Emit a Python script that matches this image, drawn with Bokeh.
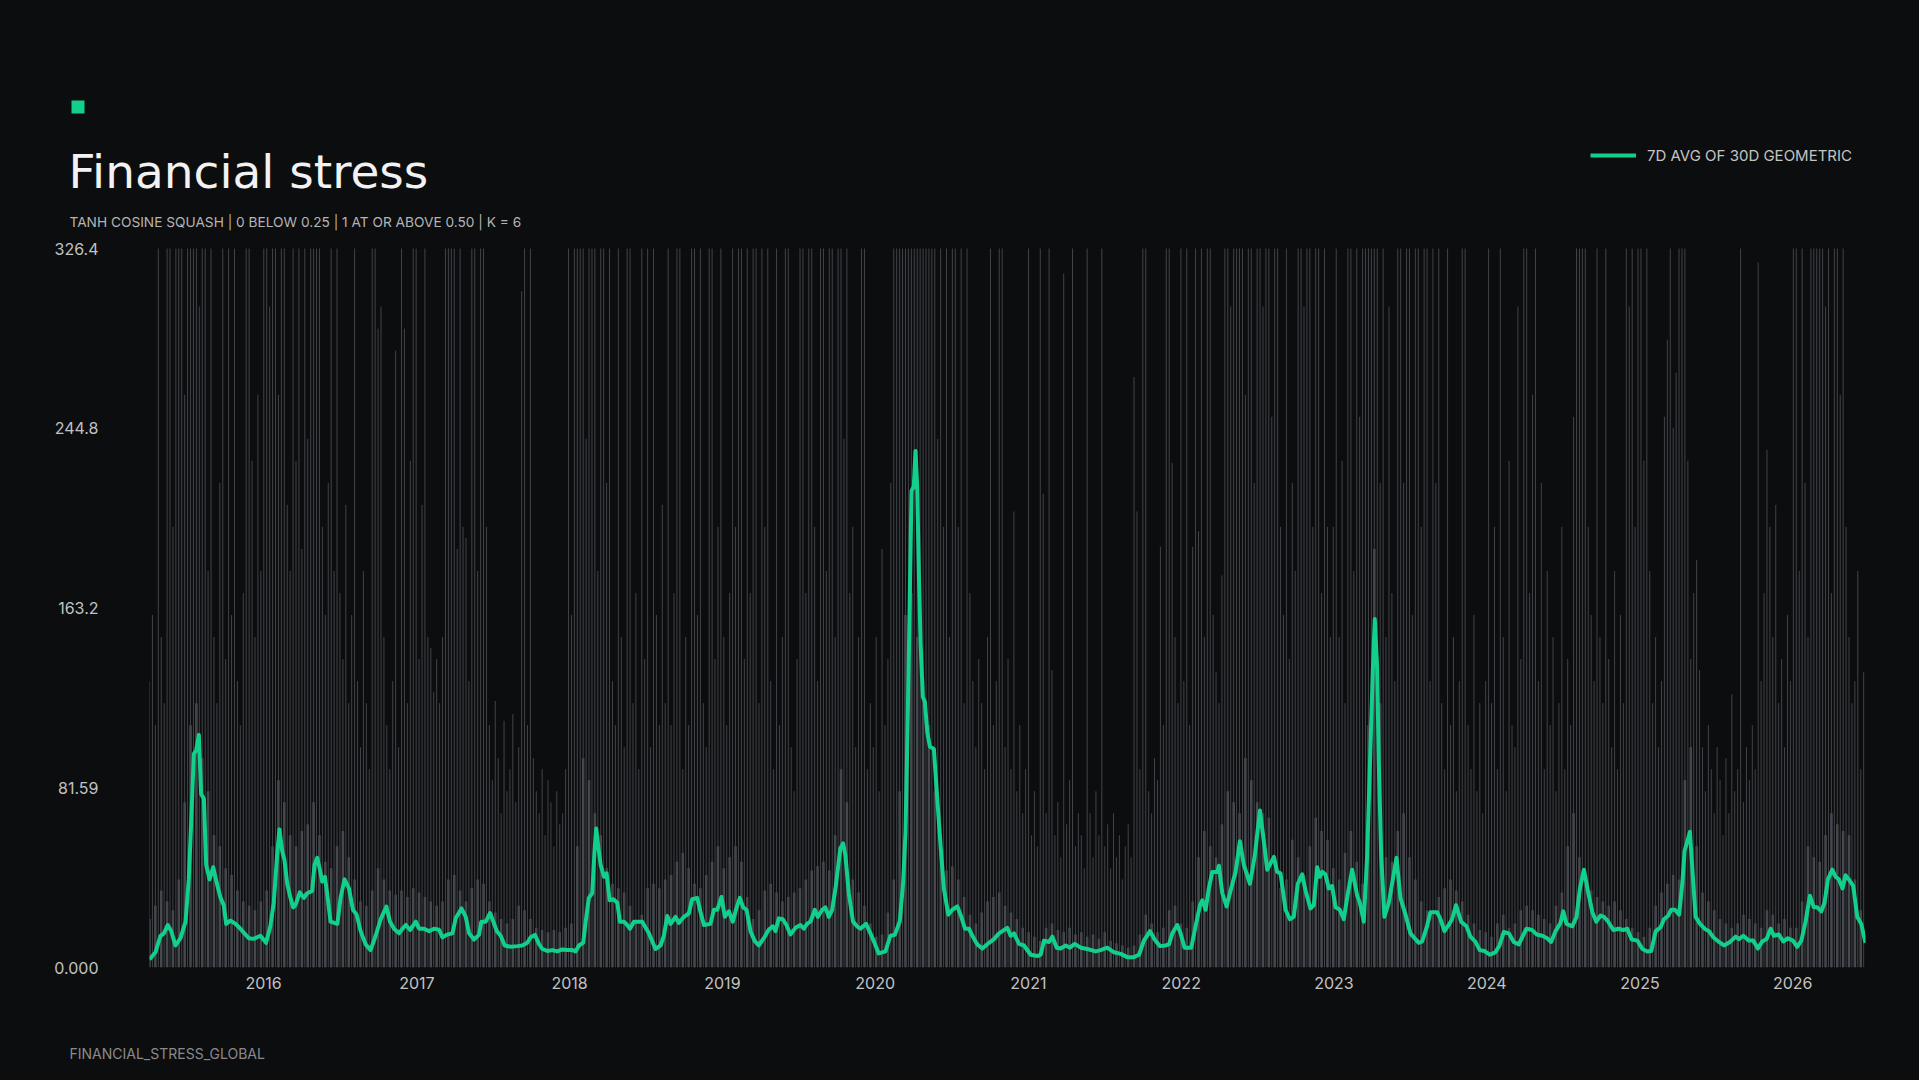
from datetime import datetime
import pandas as pd
from bokeh.plotting import figure
from bokeh.models import (Range1d, FixedTicker, CustomJSTickFormatter, Label,
                          BoxAnnotation, Legend, LegendItem)
from bokeh.embed import file_html
from bokeh.resources import INLINE

# ---------------- data ----------------
title_text = "Financial stress"
subtitle_text = "TANH COSINE SQUASH | 0 BELOW 0.25 | 1 AT OR ABOVE 0.50 | K = 6"
footer_text = "FINANCIAL_STRESS_GLOBAL"
legend_label = "7D AVG OF 30D GEOMETRIC"

y_ticks = [0.0, 81.59, 163.19, 244.78, 326.37]
x_tick_years = [2016, 2017, 2018, 2019, 2020, 2021, 2022, 2023, 2024, 2025, 2026]

# 7D average of 30D geometric (decimal year, value)
avg_points = [
    (2015.253, 3.6), (2015.292, 6.9), (2015.325, 14.4), (2015.347, 15.5), (2015.373, 19.3),
    (2015.395, 16.5), (2015.423, 10.0), (2015.456, 13.3), (2015.489, 20.8), (2015.510, 40.0),
    (2015.526, 66.0), (2015.543, 97.0), (2015.558, 98.5), (2015.576, 105.6), (2015.591, 78.8),
    (2015.609, 76.6), (2015.624, 46.6), (2015.646, 40.0), (2015.670, 45.5), (2015.691, 39.0),
    (2015.718, 31.6), (2015.739, 28.3), (2015.755, 19.8), (2015.783, 21.3), (2015.816, 19.8),
    (2015.848, 17.6), (2015.874, 15.5), (2015.903, 13.3), (2015.935, 13.0), (2015.979, 14.4),
    (2016.016, 11.2), (2016.044, 18.7), (2016.066, 29.4), (2016.088, 50.9), (2016.103, 62.7),
    (2016.121, 53.0), (2016.136, 48.7), (2016.154, 38.0), (2016.175, 31.6), (2016.193, 27.3),
    (2016.208, 28.3), (2016.236, 34.1), (2016.263, 31.6), (2016.284, 33.7), (2016.317, 34.8),
    (2016.332, 46.6), (2016.350, 49.8), (2016.367, 44.4), (2016.382, 39.0), (2016.400, 41.2),
    (2016.420, 30.5), (2016.437, 20.8), (2016.481, 19.8), (2016.502, 31.6), (2016.528, 40.0),
    (2016.557, 35.9), (2016.583, 26.2), (2016.607, 24.0), (2016.633, 16.5), (2016.666, 10.5),
    (2016.698, 7.9), (2016.731, 14.4), (2016.764, 21.9), (2016.801, 27.7), (2016.825, 20.8),
    (2016.851, 17.6), (2016.884, 15.5), (2016.906, 17.6), (2016.928, 19.3), (2016.956, 17.0),
    (2016.993, 20.8), (2017.015, 17.6), (2017.047, 17.6), (2017.080, 16.5), (2017.113, 17.6),
    (2017.145, 17.2), (2017.167, 13.7), (2017.200, 15.0), (2017.233, 15.5), (2017.255, 22.5),
    (2017.292, 26.8), (2017.320, 23.0), (2017.342, 15.5), (2017.374, 12.7), (2017.407, 14.8),
    (2017.422, 20.8), (2017.451, 20.8), (2017.479, 24.7), (2017.501, 20.8), (2017.523, 16.5),
    (2017.549, 14.4), (2017.575, 10.0), (2017.614, 9.4), (2017.658, 9.7), (2017.690, 10.0),
    (2017.723, 11.2), (2017.745, 13.7), (2017.773, 14.8), (2017.799, 10.7), (2017.821, 8.4),
    (2017.854, 7.5), (2017.887, 7.9), (2017.919, 7.3), (2017.952, 8.2), (2017.985, 7.9),
    (2018.018, 7.9), (2018.039, 7.3), (2018.061, 10.0), (2018.089, 11.2), (2018.105, 20.8),
    (2018.126, 31.6), (2018.148, 33.7), (2018.163, 53.0), (2018.174, 63.1), (2018.187, 55.2),
    (2018.203, 46.6), (2018.225, 41.2), (2018.242, 42.7), (2018.262, 30.5), (2018.286, 31.0),
    (2018.312, 29.4), (2018.329, 20.8), (2018.355, 20.8), (2018.377, 19.3), (2018.395, 17.6),
    (2018.421, 20.8), (2018.475, 20.8), (2018.519, 15.5), (2018.562, 8.4), (2018.595, 10.0),
    (2018.617, 14.4), (2018.639, 23.4), (2018.661, 19.8), (2018.693, 23.0), (2018.715, 20.2),
    (2018.748, 23.0), (2018.780, 24.5), (2018.802, 31.0), (2018.835, 31.6), (2018.857, 25.1),
    (2018.879, 19.3), (2018.922, 19.8), (2018.944, 26.2), (2018.966, 26.2), (2018.994, 32.0),
    (2019.016, 23.0), (2019.042, 25.5), (2019.068, 20.8), (2019.090, 26.6), (2019.114, 31.6),
    (2019.136, 27.3), (2019.158, 26.2), (2019.184, 16.5), (2019.210, 12.2), (2019.238, 10.0),
    (2019.271, 13.3), (2019.304, 17.2), (2019.330, 18.7), (2019.347, 16.5), (2019.369, 22.3),
    (2019.395, 21.9), (2019.419, 19.3), (2019.445, 15.0), (2019.478, 18.0), (2019.511, 19.3),
    (2019.533, 17.6), (2019.554, 19.8), (2019.576, 20.8), (2019.605, 26.2), (2019.624, 23.0),
    (2019.653, 26.2), (2019.674, 27.3), (2019.696, 23.0), (2019.718, 26.2), (2019.740, 35.9),
    (2019.772, 54.1), (2019.790, 56.3), (2019.805, 50.9), (2019.827, 33.7), (2019.855, 20.8),
    (2019.881, 18.7), (2019.903, 17.6), (2019.940, 19.8), (2019.969, 15.5), (2019.995, 11.2),
    (2020.023, 6.4), (2020.067, 7.3), (2020.099, 14.4), (2020.128, 14.8), (2020.160, 20.8),
    (2020.182, 38.0), (2020.198, 61.6), (2020.213, 115.3), (2020.226, 169.0), (2020.237, 216.2),
    (2020.252, 218.4), (2020.263, 234.5), (2020.274, 218.4), (2020.285, 179.7), (2020.296, 147.5),
    (2020.311, 122.8), (2020.324, 120.7), (2020.340, 106.7), (2020.357, 100.3), (2020.383, 99.2),
    (2020.405, 76.6), (2020.427, 55.2), (2020.448, 35.9), (2020.477, 24.0), (2020.503, 26.2),
    (2020.536, 27.7), (2020.562, 23.0), (2020.586, 17.6), (2020.612, 17.6), (2020.634, 14.4),
    (2020.666, 10.5), (2020.699, 8.6), (2020.743, 11.2), (2020.775, 12.9), (2020.808, 15.5),
    (2020.862, 18.0), (2020.884, 14.4), (2020.906, 15.5), (2020.939, 10.7), (2020.971, 10.0),
    (2021.015, 5.8), (2021.059, 5.2), (2021.080, 5.8), (2021.102, 12.2), (2021.135, 11.6),
    (2021.157, 14.0), (2021.185, 9.0), (2021.211, 8.6), (2021.244, 10.0), (2021.272, 9.0),
    (2021.303, 10.7), (2021.342, 9.0), (2021.386, 8.4), (2021.440, 7.3), (2021.473, 7.9),
    (2021.516, 9.0), (2021.560, 6.9), (2021.604, 6.2), (2021.647, 4.7), (2021.691, 4.7),
    (2021.724, 5.8), (2021.756, 12.2), (2021.796, 16.5), (2021.826, 12.7), (2021.861, 9.7),
    (2021.898, 10.0), (2021.920, 10.5), (2021.942, 15.5), (2021.974, 19.3), (2021.996, 15.5),
    (2022.022, 9.0), (2022.066, 9.0), (2022.094, 18.7), (2022.123, 28.3), (2022.138, 30.5),
    (2022.160, 26.2), (2022.181, 35.9), (2022.203, 43.4), (2022.236, 43.4), (2022.247, 46.2),
    (2022.269, 33.7), (2022.297, 27.7), (2022.323, 34.8), (2022.356, 43.4), (2022.384, 57.3),
    (2022.410, 46.6), (2022.450, 38.0), (2022.482, 50.9), (2022.515, 71.3), (2022.541, 57.3),
    (2022.563, 44.4), (2022.580, 46.6), (2022.607, 50.2), (2022.628, 43.4), (2022.650, 42.7),
    (2022.683, 26.2), (2022.711, 21.9), (2022.737, 23.0), (2022.763, 38.0), (2022.792, 42.3),
    (2022.814, 34.8), (2022.846, 26.8), (2022.868, 28.3), (2022.890, 45.5), (2022.907, 41.2),
    (2022.923, 43.4), (2022.944, 42.3), (2022.966, 35.9), (2022.988, 37.0), (2023.010, 27.3),
    (2023.038, 26.2), (2023.064, 21.9), (2023.086, 31.6), (2023.119, 44.4), (2023.152, 32.6),
    (2023.169, 29.4), (2023.195, 20.8), (2023.217, 50.9), (2023.239, 100.3), (2023.254, 134.6),
    (2023.267, 158.2), (2023.282, 136.8), (2023.293, 93.8), (2023.309, 50.9), (2023.330, 23.0),
    (2023.359, 29.4), (2023.380, 38.0), (2023.409, 49.8), (2023.435, 31.6), (2023.468, 24.0),
    (2023.500, 15.5), (2023.555, 11.2), (2023.577, 11.8), (2023.609, 18.7), (2023.631, 25.1),
    (2023.675, 25.1), (2023.697, 21.9), (2023.723, 16.5), (2023.751, 19.3), (2023.773, 21.9),
    (2023.799, 28.3), (2023.832, 20.8), (2023.867, 18.7), (2023.893, 14.0), (2023.926, 11.6),
    (2023.954, 7.9), (2023.984, 7.5), (2024.019, 5.8), (2024.056, 6.9), (2024.083, 10.0),
    (2024.111, 16.1), (2024.144, 15.5), (2024.176, 11.6), (2024.209, 10.5), (2024.231, 13.7),
    (2024.259, 17.6), (2024.296, 17.0), (2024.325, 15.0), (2024.362, 14.4), (2024.394, 13.3),
    (2024.420, 11.6), (2024.449, 16.5), (2024.481, 20.2), (2024.499, 25.5), (2024.521, 19.8),
    (2024.558, 18.7), (2024.586, 23.0), (2024.608, 35.9), (2024.634, 44.4), (2024.660, 34.8),
    (2024.689, 25.1), (2024.715, 20.8), (2024.743, 23.6), (2024.765, 23.0), (2024.793, 20.8),
    (2024.826, 17.0), (2024.859, 17.6), (2024.891, 17.0), (2024.917, 17.6), (2024.946, 12.7),
    (2024.983, 12.2), (2025.016, 8.4), (2025.048, 7.3), (2025.074, 7.5), (2025.103, 16.5),
    (2025.135, 18.3), (2025.157, 21.9), (2025.183, 23.4), (2025.205, 26.2), (2025.229, 26.2),
    (2025.256, 24.0), (2025.277, 38.0), (2025.292, 53.0), (2025.310, 57.3), (2025.327, 61.6),
    (2025.343, 44.4), (2025.364, 23.0), (2025.393, 19.8), (2025.423, 17.6), (2025.452, 16.5),
    (2025.480, 13.7), (2025.517, 11.6), (2025.550, 10.0), (2025.589, 11.6), (2025.626, 14.0),
    (2025.648, 12.9), (2025.676, 14.4), (2025.713, 12.2), (2025.741, 12.2), (2025.772, 8.6),
    (2025.800, 11.8), (2025.829, 12.9), (2025.855, 17.6), (2025.877, 14.4), (2025.909, 15.0),
    (2025.938, 11.8), (2025.968, 13.3), (2026.001, 12.2), (2026.029, 9.4), (2026.056, 12.2),
    (2026.084, 20.8), (2026.112, 32.6), (2026.138, 27.3), (2026.160, 27.3), (2026.187, 25.5),
    (2026.208, 29.4), (2026.230, 40.0), (2026.258, 44.4), (2026.280, 41.2), (2026.302, 40.0),
    (2026.326, 35.9), (2026.345, 41.9), (2026.367, 40.0), (2026.396, 36.9), (2026.422, 23.0),
    (2026.448, 19.8), (2026.476, 11.2),
]

# raw daily stress: tallest daily reading per week (values above the axis top are cut off)
daily_start = 2015.253
peak_2015 = [130, 160, 110, 400, 150, 120, 400, 400, 200, 400, 400, 400, 260, 400, 400, 400, 400,
             300, 400, 400, 180, 400, 150, 120, 220, 400, 140, 400, 160, 400, 130, 110, 170, 400,
             400, 230, 150, 260, 180]
peak_2016 = [400, 400, 300, 400, 400, 260, 400, 400, 210, 180, 400, 230, 400, 190, 400, 240, 400,
             400, 400, 400, 200, 160, 220, 400, 180, 400, 170, 140, 210, 120, 160, 400, 130, 100,
             180, 120, 90, 400, 400, 290, 300, 150, 110, 90, 130, 280, 100, 400, 290, 120, 230, 400]
peak_2017 = [400, 140, 210, 400, 150, 145, 125, 140, 120, 150, 400, 400, 400, 400, 190, 400, 200,
             195, 130, 400, 400, 180, 400, 400, 200, 110, 85, 121, 95, 70, 112, 80, 90, 115, 75,
             100, 307, 400, 110, 400, 95, 80, 70, 90, 60, 85, 75, 55, 80, 65, 70, 90]
peak_2018 = [400, 160, 400, 400, 400, 400, 240, 400, 400, 400, 180, 400, 400, 220, 400, 130, 110,
             400, 150, 100, 400, 400, 120, 170, 90, 400, 140, 400, 100, 400, 160, 110, 210, 120,
             400, 110, 170, 400, 400, 90, 150, 110, 400, 400, 160, 400, 120, 100, 400, 400, 140, 200]
peak_2019 = [400, 150, 110, 170, 400, 200, 400, 400, 140, 400, 170, 400, 400, 120, 400, 200, 400,
             130, 90, 400, 110, 150, 400, 400, 100, 80, 140, 400, 400, 170, 400, 400, 200, 130, 400,
             400, 180, 400, 400, 150, 400, 400, 240, 400, 170, 200, 100, 150, 400, 400, 90, 120]
peak_2020 = [100, 150, 80, 190, 110, 140, 220, 400, 400, 400, 400, 400, 400, 400, 400, 400, 400,
             400, 400, 400, 400, 400, 240, 400, 200, 400, 150, 400, 400, 200, 400, 120, 400, 170,
             130, 100, 140, 120, 90, 150, 400, 110, 130, 400, 400, 100, 140, 90, 207, 80, 110, 70,
             90]
peak_2021 = [400, 60, 80, 55, 400, 215, 70, 400, 135, 60, 75, 50, 315, 65, 85, 400, 55, 70, 60,
             45, 400, 70, 50, 80, 60, 400, 55, 65, 45, 70, 50, 60, 40, 55, 65, 50, 268, 207, 90,
             400, 400, 80, 70, 95, 85, 191, 110, 400, 400, 229, 150, 120]
peak_2022 = [400, 130, 400, 110, 191, 400, 198, 400, 150, 400, 400, 160, 134, 120, 178, 400, 400,
             300, 400, 400, 400, 400, 260, 400, 400, 220, 400, 400, 300, 400, 400, 250, 400, 400,
             200, 160, 400, 140, 220, 180, 400, 400, 300, 400, 400, 200, 400, 400, 170, 400, 200, 150]
peak_2023 = [200, 400, 150, 230, 120, 400, 400, 180, 400, 250, 400, 400, 400, 400, 400, 400, 220,
             400, 150, 300, 170, 130, 400, 400, 220, 400, 400, 160, 400, 400, 200, 400, 400, 130,
             400, 220, 400, 120, 90, 400, 110, 150, 80, 130, 400, 400, 110, 90, 160, 80, 120, 70,
             130]
peak_2024 = [400, 120, 200, 90, 400, 150, 80, 230, 110, 100, 300, 140, 400, 400, 170, 260, 400,
             130, 220, 90, 180, 110, 150, 80, 120, 200, 90, 140, 110, 250, 400, 400, 400, 400, 200,
             160, 130, 400, 150, 120, 400, 140, 100, 180, 90, 160, 120, 400, 300, 400, 200, 400]
peak_2025 = [400, 230, 400, 180, 120, 150, 100, 130, 250, 285, 400, 245, 270, 400, 400, 400, 230,
             140, 170, 185, 135, 100, 80, 110, 90, 70, 100, 85, 60, 95, 70, 124, 80, 90, 400, 75,
             100, 85, 110, 90, 320, 130, 170, 235, 200, 150, 210, 120, 140, 100, 160, 130]
peak_2026 = [400, 400, 180, 400, 220, 150, 400, 400, 400, 400, 400, 300, 400, 170, 400, 400, 260,
             400, 200, 150, 120, 130, 180, 90, 134]

# raw daily stress: typical daily level per fortnight (the dense low mass)
level_2015 = [22, 28, 35, 30, 26, 40, 75, 110, 120, 95, 80, 60, 55, 45, 42, 35, 30, 28, 26, 30]
level_2016 = [35, 55, 85, 75, 60, 55, 62, 65, 75, 60, 48, 45, 55, 62, 50, 40, 30, 28, 35, 45, 40,
              35, 33, 35, 32, 36]
level_2017 = [34, 32, 30, 28, 30, 40, 42, 35, 30, 36, 40, 38, 30, 25, 22, 20, 22, 28, 26, 22, 18,
              17, 16, 17, 16, 18]
level_2018 = [20, 55, 95, 85, 70, 60, 45, 38, 36, 34, 28, 20, 24, 36, 38, 36, 40, 42, 48, 52, 45,
              38, 36, 42, 48, 55]
level_2019 = [45, 50, 55, 48, 32, 22, 26, 35, 38, 34, 30, 32, 34, 36, 40, 44, 46, 48, 44, 60, 90,
              75, 40, 34, 28, 20]
level_2020 = [14, 15, 25, 40, 80, 160, 170, 150, 130, 110, 80, 55, 44, 46, 40, 32, 24, 20, 25, 30,
              32, 34, 28, 25, 22, 18]
level_2021 = [16, 14, 12, 18, 20, 17, 16, 18, 15, 16, 14, 15, 13, 16, 12, 11, 10, 9, 10, 15, 24,
              20, 16, 18, 26, 28]
level_2022 = [20, 18, 30, 50, 62, 55, 50, 65, 80, 75, 70, 95, 85, 75, 70, 68, 48, 36, 40, 58, 50,
              42, 55, 68, 62, 58]
level_2023 = [45, 40, 52, 62, 48, 38, 110, 190, 120, 50, 48, 62, 70, 50, 40, 30, 26, 24, 32, 36,
              40, 35, 30, 24, 20, 17, 16]
level_2024 = [14, 20, 24, 18, 20, 26, 28, 26, 24, 22, 20, 28, 34, 55, 70, 50, 38, 35, 32, 30, 28,
              30, 26, 22, 18, 16]
level_2025 = [14, 18, 28, 34, 38, 42, 40, 85, 100, 55, 34, 30, 26, 22, 20, 18, 20, 24, 22, 20, 18,
              26, 24, 20, 22, 18]
level_2026 = [18, 30, 55, 50, 48, 60, 70, 65, 62, 60, 40, 26]

# ---------------- helpers ----------------
BG = "#0c0d0f"
GREEN = "#12cf8b"
FONT = "Inter"
W, H = 1919, 1080
HEAD_H, FOOT_H = 236, 53


def dec_year(y):
    yr = int(y)
    a = datetime(yr, 1, 1)
    b = datetime(yr + 1, 1, 1)
    return a + (b - a) * (y - yr)


def blank_panel(height):
    f = figure(width=W, height=height, x_range=Range1d(0, W), y_range=Range1d(0, height),
               output_backend="svg", toolbar_location=None, min_border=0,
               x_axis_location=None, y_axis_location=None)
    f.background_fill_color = BG
    f.border_fill_color = BG
    f.outline_line_color = None
    f.grid.visible = False
    return f


avg_dates = [dec_year(t) for t, _ in avg_points]
avg_values = [v for _, v in avg_points]

daily_peak = (peak_2015 + peak_2016 + peak_2017 + peak_2018 + peak_2019 + peak_2020 + peak_2021
              + peak_2022 + peak_2023 + peak_2024 + peak_2025 + peak_2026)
daily_level = (level_2015 + level_2016 + level_2017 + level_2018 + level_2019 + level_2020
               + level_2021 + level_2022 + level_2023 + level_2024 + level_2025 + level_2026)
peak_dates = pd.date_range(dec_year(daily_start), periods=len(daily_peak), freq="7D")
level_dates = pd.date_range(dec_year(daily_start), periods=len(daily_level), freq="14D")

x_ticks_ms = [datetime(y, 1, 1).timestamp() * 1000 for y in x_tick_years]

# ---------------- header ----------------
head = blank_panel(HEAD_H)
head.add_layout(BoxAnnotation(left=71, right=84, bottom=123, top=136,
                              fill_color=GREEN, fill_alpha=1.0, line_color=None))
head.add_layout(Label(x=68, y=65, text=title_text, text_font="DejaVu Sans",
                     text_font_size="47px", text_color="#f2f2f2", text_baseline="alphabetic"))
head.add_layout(Label(x=69, y=15, text=subtitle_text, text_font=FONT, text_font_size="13.7px",
                     text_color="#b4b4b4", text_baseline="alphabetic"))
nan = float("nan")
proxy = head.line(x=[nan, nan], y=[nan, nan], line_color=GREEN, line_width=4)
head.add_layout(Legend(items=[LegendItem(label=legend_label, renderers=[proxy])],
                       location=(1590, 71), glyph_width=46, glyph_height=20, label_height=20,
                       label_standoff=11, padding=0, margin=0, spacing=0,
                       border_line_color=None, background_fill_alpha=0,
                       label_text_font=FONT, label_text_font_size="15px",
                       label_text_color="#c4c4c4"))

# ---------------- main chart ----------------
p = figure(width=W, height=H - HEAD_H - FOOT_H, x_axis_type="datetime",
           x_range=Range1d(avg_dates[0], avg_dates[-1]),
           y_range=Range1d(y_ticks[0], y_ticks[-1]),
           output_backend="svg", toolbar_location=None,
           min_border_left=149, min_border_right=54,
           min_border_top=12, min_border_bottom=60)
p.background_fill_color = BG
p.border_fill_color = BG
p.outline_line_color = None
p.grid.visible = False

p.vbar(x=level_dates, top=daily_level, bottom=0, width=6 * 86400000,
       fill_color="#474a4f", line_color=None)
p.segment(x0=peak_dates, y0=0, x1=peak_dates, y1=daily_peak,
          line_color="#44474c", line_width=1, line_alpha=0.95)
p.line(avg_dates, avg_values, line_color=GREEN, line_width=4, line_join="round")

p.xaxis.ticker = FixedTicker(ticks=x_ticks_ms)
p.xaxis.formatter = CustomJSTickFormatter(code="return String(new Date(tick).getUTCFullYear());")
p.yaxis.ticker = FixedTicker(ticks=y_ticks)
p.yaxis.formatter = CustomJSTickFormatter(code="return tick.toPrecision(4);")
for ax in (p.xaxis[0], p.yaxis[0]):
    ax.axis_line_color = None
    ax.major_tick_line_color = None
    ax.minor_tick_line_color = None
    ax.major_tick_out = 0
    ax.major_tick_in = 0
    ax.major_label_text_font = FONT
    ax.major_label_text_font_size = "16px"
    ax.major_label_text_color = "#c2c2c2"
p.yaxis.major_label_standoff = 51
p.xaxis.major_label_standoff = 9

# ---------------- footer ----------------
foot = blank_panel(FOOT_H)
foot.add_layout(Label(x=69, y=27, text=footer_text, text_font=FONT, text_font_size="14px",
                     text_color="#8a8a8a", text_baseline="alphabetic"))

roots = [head, p, foot]

# ---------------- output ----------------
html = None
try:
    from jinja2 import Template
    tpl = Template("{% extends base %}\n{% block preamble %}<style>html, body { background: "
                   + BG + "; }</style>{% endblock %}")
    html = file_html(roots, INLINE, template=tpl)
except Exception:
    html = file_html(roots, INLINE)
open("out.html", "w").write(html)
